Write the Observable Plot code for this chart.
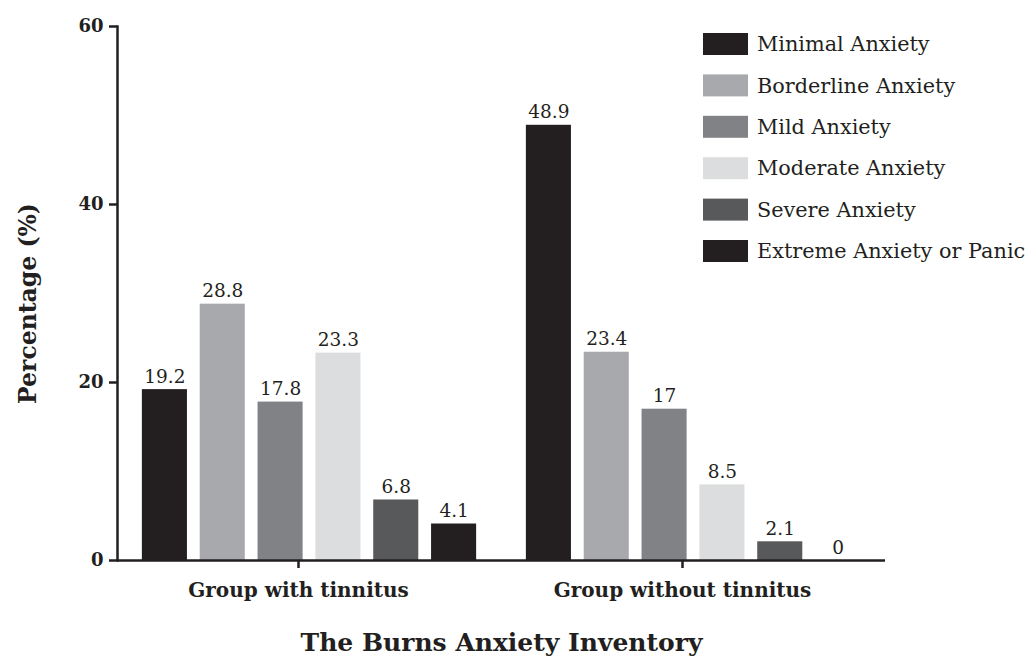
<!DOCTYPE html>
<html>
<head>
<meta charset="utf-8">
<script src="https://cdn.jsdelivr.net/npm/d3@7"></script>
<script src="https://cdn.jsdelivr.net/npm/@observablehq/plot@0.6"></script>
<style>
  html, body { margin: 0; padding: 0; background: #fff; }
  #wrap { position: relative; width: 1030px; height: 658px; }
  #legend { position: absolute; left: 700px; top: 22px; }
  svg { overflow: visible; }
</style>
</head>
<body>
<div id="wrap">
  <div id="chart"></div>
  <div id="legend"></div>
</div>
<script>
const groups = ["Group with tinnitus", "Group without tinnitus"];
const categories = ["Minimal Anxiety", "Borderline Anxiety", "Mild Anxiety", "Moderate Anxiety", "Severe Anxiety", "Extreme Anxiety or Panic"];
const withTinnitus = [19.2, 28.8, 17.8, 23.3, 6.8, 4.1];
const withoutTinnitus = [48.9, 23.4, 17, 8.5, 2.1, 0];
const colors = ["#231f20", "#a7a9ac", "#808285", "#dcddde", "#58595b", "#231f20"];
const yTicks = [0, 20, 40, 60];
const yLabel = "Percentage (%)";
const xTitle = "The Burns Anxiety Inventory";

const series = [withTinnitus, withoutTinnitus];
const data = [];
groups.forEach((g, gi) => categories.forEach((c, ci) => data.push({group: g, category: c, value: series[gi][ci]})));

const font = "DejaVu Serif";
const ink = "#231f20";

const chart = Plot.plot({
  width: 1030,
  height: 658,
  marginLeft: 117,
  marginRight: 145,
  marginTop: 26,
  marginBottom: 98,
  style: {fontFamily: font, color: ink, background: "transparent"},
  fx: {domain: groups, paddingInner: 0, paddingOuter: 0, round: false},
  x: {domain: categories, paddingInner: 0.221, paddingOuter: 0.43, round: false, axis: null},
  y: {domain: [0, 60]},
  color: {domain: categories, range: colors},
  marks: [
    Plot.barY(data, {fx: "group", x: "category", y: "value", fill: "category"}),
    Plot.text(data, {fx: "group", x: "category", y: "value", text: d => String(d.value), dy: -7, lineAnchor: "bottom", fontSize: 18.5, fill: ink}),
    Plot.ruleY([0], {stroke: ink, strokeWidth: 2.5}),
    Plot.frame({anchor: "left", facetAnchor: "left", stroke: ink, strokeWidth: 2.5}),
    Plot.axisY({ticks: yTicks, tickSize: 8, tickPadding: 6, fontSize: 18, fontWeight: "bold", strokeWidth: 2.5, label: null, stroke: ink, fill: ink}),
    Plot.text([yLabel], {fx: () => groups[0], frameAnchor: "left", textAnchor: "middle", rotate: -90, dx: -89, dy: 10, fontSize: 23.5, fontWeight: "bold", fill: ink}),
    Plot.axisFx({anchor: "bottom", tickSize: 8, tickPadding: 14, fontSize: 20, fontWeight: "bold", strokeWidth: 2.5, dx: -11, label: null, stroke: ink, fill: ink}),
    Plot.axisFx({anchor: "bottom", ticks: [], label: xTitle, labelAnchor: "center", labelOffset: 90, fontSize: 25, fontWeight: "bold", fill: ink})
  ]
});
document.getElementById("chart").appendChild(chart);

const legend = Plot.plot({
  width: 330,
  height: 252,
  margin: 0,
  style: {fontFamily: font, color: ink, background: "transparent"},
  x: {type: "band", domain: ["swatch"], range: [3, 48], padding: 0, round: false, axis: null},
  y: {type: "band", domain: categories, range: [1.3, 249.7], paddingInner: 0.469, paddingOuter: 0.2345, round: false, axis: null},
  color: {domain: categories, range: colors},
  marks: [
    Plot.cell(categories, {x: () => "swatch", y: d => d, fill: d => d}),
    Plot.text(categories, {x: () => "swatch", y: d => d, text: d => d, dx: 31, textAnchor: "start", fontSize: 20.8, fill: ink})
  ]
});
document.getElementById("legend").appendChild(legend);
</script>
</body>
</html>
